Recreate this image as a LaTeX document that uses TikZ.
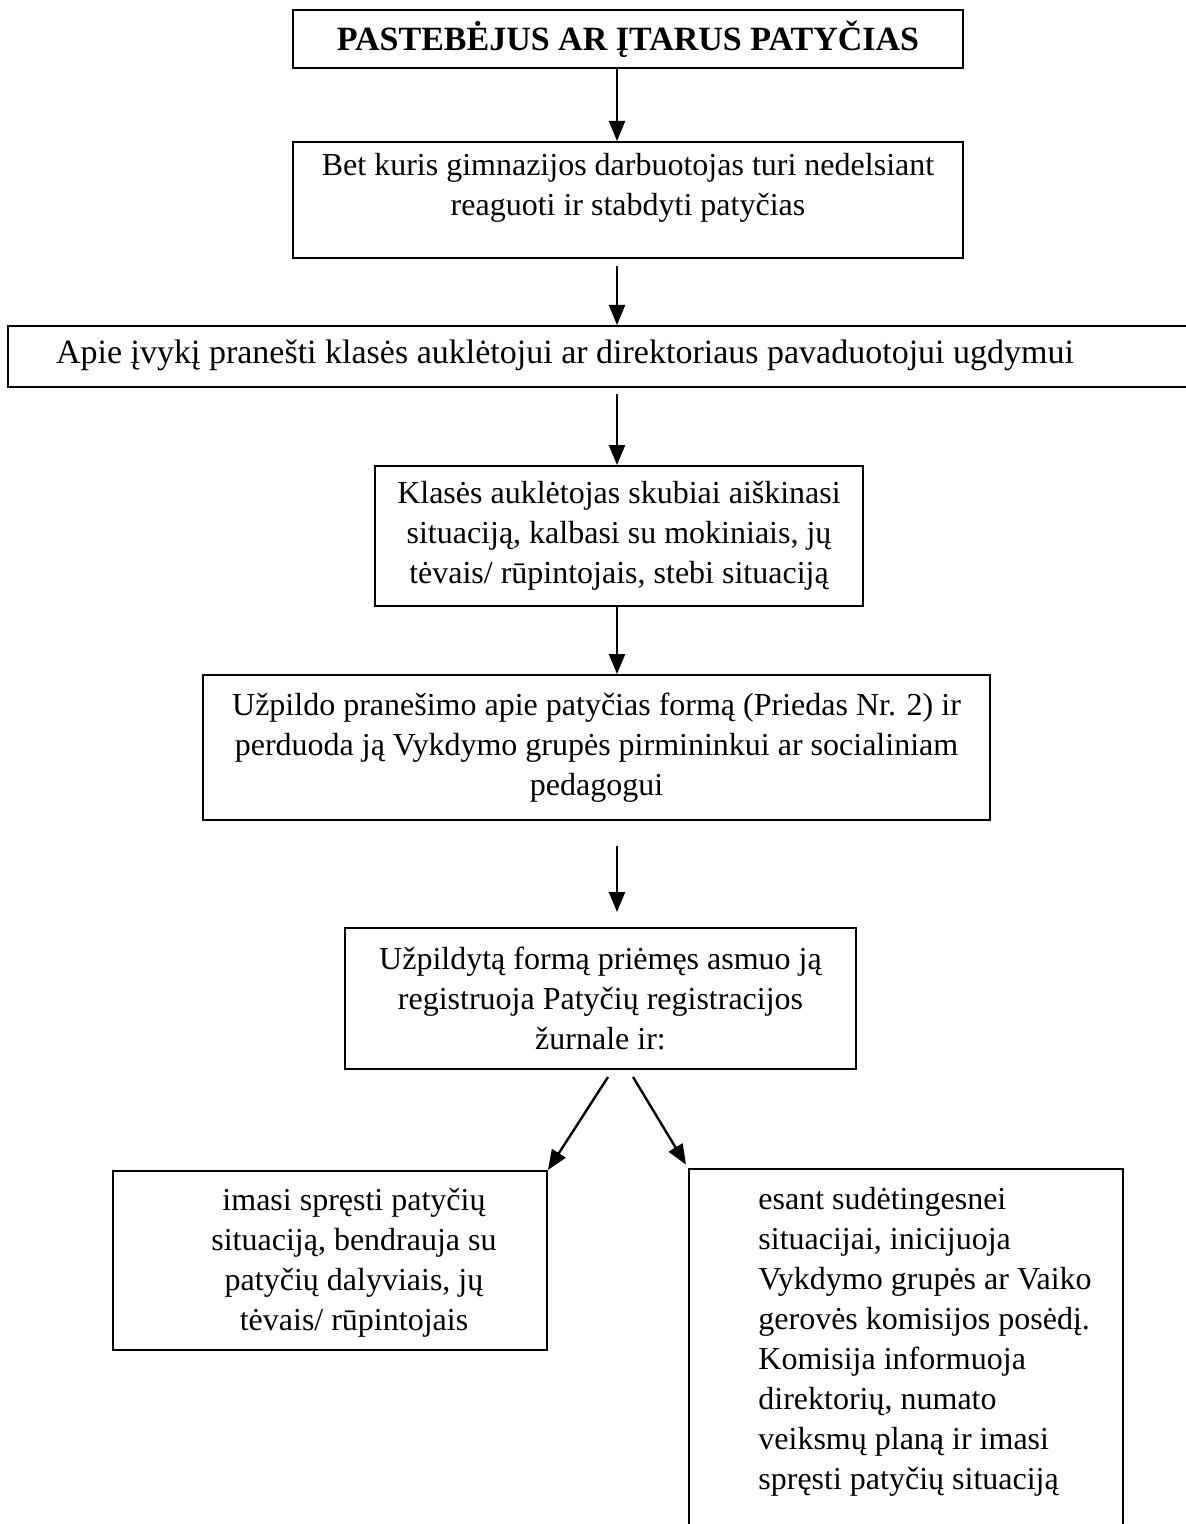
\documentclass[tikz,border=0pt]{standalone}
\usepackage{fontspec}
\setmainfont{Liberation Serif}
\usetikzlibrary{arrows.meta}

\tikzset{
  frame/.style={draw, line width=1pt, inner sep=0pt, align=center,
    font=\fontsize{16}{20}\selectfont},
  txt/.style={inner sep=0pt, font=\fontsize{16}{20}\selectfont},
  arr/.style={line width=1.2pt, -{Triangle[length=10pt,width=8pt]}}
}

\begin{document}
\begin{tikzpicture}[x=0.5pt,y=-0.5pt]
    \clip (0,0) rectangle (1186,1524);
    \coordinate (spine) at (617,0);

    % top
    \node[frame, minimum width=335pt, minimum height=29pt, font=\fontsize{17}{20}\selectfont\bfseries] (f1) at (628,39) {PASTEBĖJUS AR ĮTARUS PATYČIAS};

    \node[frame, minimum width=335pt, minimum height=58pt] (f2) at (628,200) {};
    \node[txt, align=flush center, text width=330pt, anchor=base] (t2) at (628,176) {Bet kuris gimnazijos darbuotojas turi nedelsiant\\reaguoti ir stabdyti patyčias};

    \node[frame, minimum width=621pt, minimum height=30.5pt] (f3) at (629,356.5) {};
    \node[txt, anchor=base, font=\fontsize{17}{20}\selectfont] (t3) at (565,364) {Apie įvykį pranešti klasės auklėtojui ar direktoriaus pavaduotojui ugdymui};

    \node[frame, minimum width=244pt, minimum height=70pt] (f4) at (619,536) {Klasės auklėtojas skubiai aiškinasi\\situaciją, kalbasi su mokiniais, jų\\tėvais/ rūpintojais, stebi situaciją};

    \node[frame, minimum width=393.5pt, minimum height=72.5pt] (f5) at (596.5,747.5) {Užpildo pranešimo apie patyčias formą (Priedas Nr. 2) ir\\perduoda ją Vykdymo grupės pirmininkui ar socialiniam\\pedagogui};

    \node[frame, minimum width=255.5pt, minimum height=70.5pt] (f6) at (600.5,998.5) {Užpildytą formą priėmęs asmuo ją\\registruoja Patyčių registracijos\\žurnale ir:};

    % two ways
    \node[frame, minimum width=217pt, minimum height=89.5pt] (f7) at (330,1260.5) {};
    \node[txt, align=flush center, text width=160pt, anchor=base] (t7) at (354,1210) {imasi spręsti patyčių\\situaciją, bendrauja su\\patyčių dalyviais, jų\\tėvais/ rūpintojais};

    \node[frame, minimum width=217pt, minimum height=215.5pt] (f8) at (906,1384.5) {};
    \node[txt, align=flush left, text width=190pt, anchor=base west] (t8) at (758,1209) {esant sudėtingesnei\\situacijai, inicijuoja\\Vykdymo grupės ar Vaiko\\gerovės komisijos posėdį.\\Komisija informuoja\\direktorių, numato\\veiksmų planą ir imasi\\spręsti patyčių situaciją};

    % arrows
    \draw[arr] (f1.south -| spine) -- (f2.north -| spine);
    \draw[arr, shorten <=3.5pt] (f2.south -| spine) -- (f3.north -| spine);
    \draw[arr, shorten <=3pt] (f3.south -| spine) -- (f4.north -| spine);
    \draw[arr] (f4.south -| spine) -- (f5.north -| spine);
    \draw[arr, shorten <=12.5pt, shorten >=7.5pt] (f5.south -| spine) -- (f6.north -| spine);
    \coordinate (ls) at (608,1077);
    \coordinate (rs) at (633,1077);
    \draw[arr] (ls) -- (f7.north east);
    \draw[arr, shorten >=2pt] (rs) -- (f8.north west);
\end{tikzpicture}
\end{document}
